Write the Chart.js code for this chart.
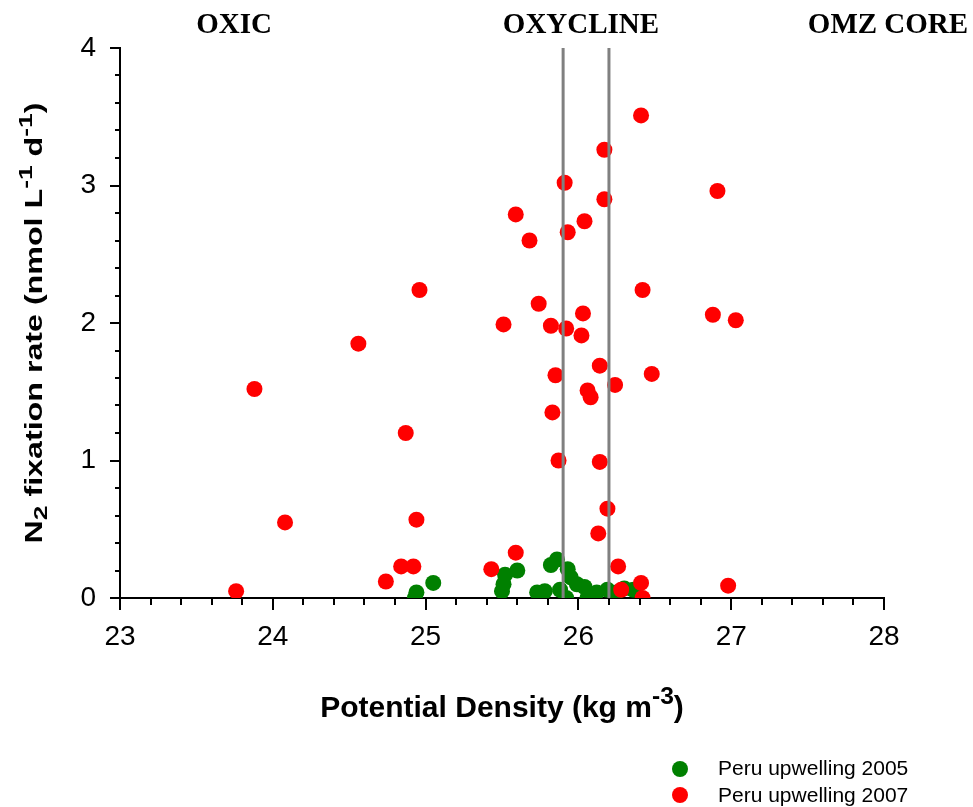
<!DOCTYPE html>
<html>
<head>
<meta charset="utf-8">
<script src="https://cdn.jsdelivr.net/npm/chart.js@4.4.0/dist/chart.umd.min.js"></script>
<style>
  html, body { margin: 0; padding: 0; background: #fff; }
  #wrap { position: relative; width: 973px; height: 807px; }
  .zone { position: absolute; top: 9px; line-height: 1; font-family: "Liberation Serif", "DejaVu Serif", serif; font-weight: bold; font-size: 29px; color: #000; transform: translateX(-50%); white-space: nowrap; }
  .leg { position: absolute; left: 718px; line-height: 1; font-family: "Liberation Sans", Arial, sans-serif; font-size: 21px; color: #000; white-space: nowrap; }
  .dot { position: absolute; left: 672px; width: 16px; height: 16px; border-radius: 50%; }
</style>
</head>
<body>
<div id="wrap">
  <canvas id="chart" width="973" height="807"></canvas>
  <div class="zone" style="left:234px">OXIC</div>
  <div class="zone" style="left:581px">OXYCLINE</div>
  <div class="zone" style="left:888px">OMZ CORE</div>
  <div class="dot" style="top:761px; background:#008000"></div>
  <div class="leg" style="top:757px">Peru upwelling 2005</div>
  <div class="dot" style="top:787px; background:#ff0000"></div>
  <div class="leg" style="top:784px">Peru upwelling 2007</div>
</div>
<script>
// Peru upwelling 2005 (green)
const density2005 = [24.93, 24.94, 25.05, 25.50, 25.51, 25.52, 25.60, 25.73, 25.78, 25.82, 25.86, 25.88, 25.92, 25.93, 25.95, 25.99, 26.04, 26.06, 26.12, 26.19, 26.25, 26.30, 26.36];
const rate2005    = [0.00, 0.04, 0.11, 0.05, 0.10, 0.17, 0.20, 0.04, 0.05, 0.24, 0.28, 0.06, 0.00, 0.21, 0.15, 0.10, 0.08, 0.00, 0.04, 0.06, 0.04, 0.07, 0.06];

// Peru upwelling 2007 (red)
const density2007 = [23.76, 23.88, 24.08, 24.56, 24.74, 24.84, 24.87, 24.92, 24.94, 24.96, 25.43, 25.51, 25.59, 25.59, 25.68, 25.74, 25.82, 25.83, 25.85, 25.87, 25.91, 25.92, 25.93, 26.02, 26.03, 26.04, 26.06, 26.08, 26.13, 26.14, 26.14, 26.17, 26.17, 26.19, 26.24, 26.26, 26.28, 26.41, 26.42, 26.41, 26.42, 26.48, 26.88, 26.91, 26.98, 27.03];
const rate2007    = [0.05, 1.52, 0.55, 1.85, 0.12, 0.23, 1.20, 0.23, 0.57, 2.24, 0.21, 1.99, 0.33, 2.79, 2.60, 2.14, 1.98, 1.35, 1.62, 1.00, 3.02, 1.96, 2.66, 1.91, 2.07, 2.74, 1.51, 1.46, 0.47, 1.69, 0.99, 2.90, 3.26, 0.65, 1.55, 0.23, 0.06, 0.11, 0.00, 3.51, 2.24, 1.63, 2.06, 2.96, 0.09, 2.02];

// oxycline boundaries
const oxyclineBounds = [25.9, 26.2];

// axis titles, split so sub/superscripts can be drawn
const xTitle = [['Potential Density (kg m', 0], ['-3', 1], [')', 0]];
const yTitle = [['N', 0], ['2', -1], [' fixation rate (nmol L', 0], ['-1', 1], [' d', 0], ['-1', 1], [')', 0]];

function toPoints(xs, ys) {
    return xs.map((x, i) => ({ x: x, y: ys[i] }));
}

const isWhole = v => Math.abs(v - Math.round(v)) < 1e-6;

// draws text pieces; shift 1 = superscript, -1 = subscript
function richText(ctx, parts, size) {
    const small = size * 0.82;
    const widths = parts.map(p => {
        ctx.font = 'bold ' + (p[1] ? small : size) + 'px "Liberation Sans"';
        return ctx.measureText(p[0]).width;
    });
    const total = widths.reduce((a, b) => a + b, 0);
    let x = -total / 2;
    parts.forEach((p, i) => {
        ctx.font = 'bold ' + (p[1] ? small : size) + 'px "Liberation Sans"';
        const dy = p[1] === 1 ? -size * 0.42 : (p[1] === -1 ? size * 0.22 : 0);
        ctx.fillText(p[0], x, dy);
        x += widths[i];
    });
    return total;
}

const extras = {
    id: 'extras',
    afterDatasetsDraw(chart) {
        const ctx = chart.ctx;
        const xs = chart.scales.x, ys = chart.scales.y;
        ctx.save();
        ctx.strokeStyle = '#808080';
        ctx.lineWidth = 3;
        oxyclineBounds.forEach(v => {
            const px = xs.getPixelForValue(v);
            ctx.beginPath();
            ctx.moveTo(px, ys.getPixelForValue(4));
            ctx.lineTo(px, ys.getPixelForValue(0));
            ctx.stroke();
        });
        ctx.restore();
    },
    afterDraw(chart) {
        const ctx = chart.ctx;
        const xs = chart.scales.x, ys = chart.scales.y;
        const area = chart.chartArea;
        ctx.save();
        ctx.strokeStyle = '#000';
        ctx.lineWidth = 2;
        // tick marks, longer at whole numbers
        for (let i = 0; i <= 25; i++) {
            const v = 23 + i * 0.2;
            const px = Math.round(xs.getPixelForValue(v));
            ctx.beginPath();
            ctx.moveTo(px, area.bottom);
            ctx.lineTo(px, area.bottom + (i % 5 === 0 ? 12 : 7));
            ctx.stroke();
        }
        for (let i = 0; i <= 20; i++) {
            const v = i * 0.2;
            const py = Math.round(ys.getPixelForValue(v));
            ctx.beginPath();
            ctx.moveTo(area.left, py);
            ctx.lineTo(area.left - (i % 5 === 0 ? 10 : 5), py);
            ctx.stroke();
        }
        // axis titles
        ctx.fillStyle = '#000';
        ctx.textBaseline = 'alphabetic';
        ctx.textAlign = 'left';
        ctx.save();
        ctx.translate((area.left + area.right) / 2, 717);
        richText(ctx, xTitle, 30);
        ctx.restore();
        ctx.save();
        ctx.translate(42, (area.top + area.bottom) / 2);
        ctx.rotate(-Math.PI / 2);
        ctx.scale(1.4, 1);
        richText(ctx, yTitle, 23);
        ctx.restore();
        ctx.restore();
    }
};

new Chart(document.getElementById('chart').getContext('2d'), {
    type: 'scatter',
    data: {
        datasets: [{
            label: 'Peru upwelling 2005',
            data: toPoints(density2005, rate2005),
            backgroundColor: '#008000',
            borderWidth: 0,
            pointRadius: 8,
            order: 1
        }, {
            label: 'Peru upwelling 2007',
            data: toPoints(density2007, rate2007),
            backgroundColor: '#ff0000',
            borderWidth: 0,
            pointRadius: 8,
            order: 0
        }]
    },
    options: {
        responsive: false,
        animation: false,
        layout: { padding: { top: 48, right: 89, left: 0, bottom: 0 } },
        plugins: { legend: { display: false }, tooltip: { enabled: false } },
        scales: {
            x: {
                min: 23, max: 28,
                afterFit: s => { s.height = 209; },
                border: { color: '#000', width: 2 },
                grid: { drawOnChartArea: false, drawTicks: false },
                ticks: {
                    stepSize: 1, maxRotation: 0, padding: 22,
                    color: '#000', font: { family: 'Liberation Sans', size: 28 }
                }
            },
            y: {
                min: 0, max: 4,
                afterFit: s => { s.width = 120; },
                border: { color: '#000', width: 2 },
                grid: { drawOnChartArea: false, drawTicks: false },
                ticks: {
                    stepSize: 1, padding: 24,
                    color: '#000', font: { family: 'Liberation Sans', size: 28 }
                }
            }
        }
    },
    plugins: [extras]
});
</script>
</body>
</html>
